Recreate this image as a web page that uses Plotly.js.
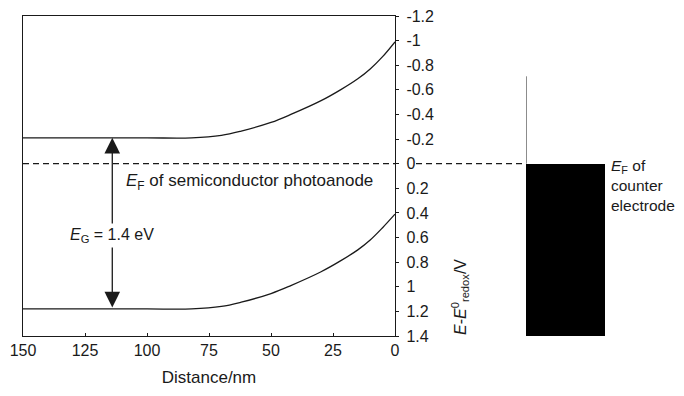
<!DOCTYPE html>
<html>
<head>
<meta charset="utf-8">
<script src="https://cdn.plot.ly/plotly-3.0.1.min.js"></script>
<style>html,body{margin:0;padding:0;background:#fff;}#chart{width:684px;height:396px;}</style>
</head>
<body>
<div id="chart"></div>
<script>
// Distance from surface (nm)
const distance = [150, 125, 100, 82, 70, 62, 50, 42, 30, 22, 15, 10, 5, 0];
// Conduction band edge (V vs E0 redox)
const conductionBand = [-0.21, -0.21, -0.21, -0.21, -0.23, -0.265, -0.335, -0.40, -0.51, -0.60, -0.69, -0.77, -0.87, -0.99];
// Valence band edge
const valenceBand = [1.18, 1.18, 1.18, 1.18, 1.16, 1.125, 1.055, 0.99, 0.88, 0.79, 0.70, 0.62, 0.52, 0.41];
// Fermi levels
const fermiLevel = 0;
const arrowDistance = 114;
const arrowTop = -0.21, arrowBottom = 1.18;
// Counter electrode
const counterX = [0];
const counterTop = [0];
const counterBottom = [1.4];
const counterLineTop = -0.71;
// Tick labels
const yTickVals = [-1.2, -1, -0.8, -0.6, -0.4, -0.2, 0, 0.2, 0.4, 0.6, 0.8, 1, 1.2, 1.4];
const yTickText = ['-1.2', '-1', '-0.8', '-0.6', '-0.4', '-0.2', '0', '0.2', '0.4', '0.6', '0.8', '1', '1.2', '1.4'];
const xTickVals = [150, 125, 100, 75, 50, 25, 0];

const W = 684, H = 396;
const FONT = 'Liberation Sans, Arial, Helvetica, sans-serif';
const INK = '#1a1a1a';
const px = v => v / W;
const py = v => 1 - v / H;

const traces = [
  {x: distance, y: conductionBand, type: 'scatter', mode: 'lines', line: {color: INK, width: 1.3, shape: 'spline', smoothing: 1}, hoverinfo: 'skip'},
  {x: distance, y: valenceBand, type: 'scatter', mode: 'lines', line: {color: INK, width: 1.3, shape: 'spline', smoothing: 1}, hoverinfo: 'skip'},
  {x: counterX, y: counterBottom.map((b, i) => b - counterTop[i]), base: counterTop, type: 'bar', xaxis: 'x2', yaxis: 'y',
   marker: {color: '#000', line: {width: 0}}, width: 1, hoverinfo: 'skip'},
  {x: [counterX[0] - 0.5, counterX[0] - 0.5], y: [counterLineTop, counterTop[0]], xaxis: 'x2', yaxis: 'y', type: 'scatter', mode: 'lines',
   line: {color: INK, width: 1}, cliponaxis: false, hoverinfo: 'skip'}
];

const layout = {
  width: W, height: H,
  margin: {l: 0, r: 0, t: 0, b: 0},
  paper_bgcolor: '#fff', plot_bgcolor: '#fff',
  showlegend: false,
  font: {family: FONT, size: 16, color: INK},
  bargap: 0,
  xaxis: {
    domain: [px(23), px(395)],
    range: [150, 0],
    tickvals: xTickVals,
    ticks: 'inside', ticklen: 3, tickcolor: INK,
    showline: true, linecolor: INK, linewidth: 1.2, mirror: true,
    showgrid: false, zeroline: false,
    tickfont: {family: FONT, size: 16, color: INK},
    title: {text: 'Distance/nm', font: {family: FONT, size: 17, color: INK}, standoff: 12},
    anchor: 'y'
  },
  xaxis2: {
    domain: [px(526), px(605)],
    range: [-0.5, 0.5],
    visible: false,
    anchor: 'y',
    type: 'linear'
  },
  yaxis: {
    domain: [py(336), py(16)],
    range: [1.4, -1.2],
    side: 'right',
    tickvals: yTickVals, ticktext: yTickText,
    ticks: 'outside', ticklen: 3, tickcolor: INK,
    showline: true, linecolor: INK, linewidth: 1.2, mirror: true,
    showgrid: false, zeroline: false,
    tickfont: {family: FONT, size: 16, color: INK},
    ticklabelstandoff: 4,
    anchor: 'x'
  },
  shapes: [
    {type: 'line', xref: 'paper', yref: 'y', x0: px(23), x1: px(395), y0: fermiLevel, y1: fermiLevel,
     line: {color: INK, width: 1.2, dash: '6px,4px'}},
    {type: 'line', xref: 'paper', yref: 'y', x0: px(416), x1: px(526), y0: fermiLevel, y1: fermiLevel,
     line: {color: INK, width: 1.2, dash: '6px,4px'}}
  ],
  annotations: [
    {x: arrowDistance, y: arrowTop, ax: arrowDistance, ay: arrowBottom, xref: 'x', yref: 'y', axref: 'x', ayref: 'y',
     text: '', showarrow: true, arrowhead: 2, arrowside: 'end+start', arrowsize: 2.4, arrowwidth: 1.3, arrowcolor: INK, standoff: 0, startstandoff: 0},
    {x: arrowDistance, y: 0.585, xref: 'x', yref: 'y', text: '<i>E</i><sub>G</sub> = 1.4 eV', showarrow: false,
     bgcolor: '#fff', font: {family: FONT, size: 16, color: INK}, xanchor: 'center', yanchor: 'middle', borderpad: 2},
    {x: px(124), y: py(182), xref: 'paper', yref: 'paper', text: '<i>E</i><sub>F</sub> of semiconductor photoanode', showarrow: false,
     font: {family: FONT, size: 17, color: INK}, xanchor: 'left', yanchor: 'middle'},
    {x: px(609), y: py(155), xref: 'paper', yref: 'paper', text: '<i>E</i><sub>F</sub> of<br>counter<br>electrode', showarrow: false,
     font: {family: FONT, size: 15.5, color: INK}, xanchor: 'left', yanchor: 'top', align: 'left'},
    {x: px(460), y: py(297), xref: 'paper', yref: 'paper', text: '<i>E</i>-<i>E</i><sup>0</sup><sub>redox</sub>/V', showarrow: false,
     textangle: -90, font: {family: FONT, size: 16, color: INK}, xanchor: 'center', yanchor: 'middle'}
  ]
};

Plotly.newPlot('chart', traces, layout, {staticPlot: true, displayModeBar: false});
</script>
</body>
</html>
